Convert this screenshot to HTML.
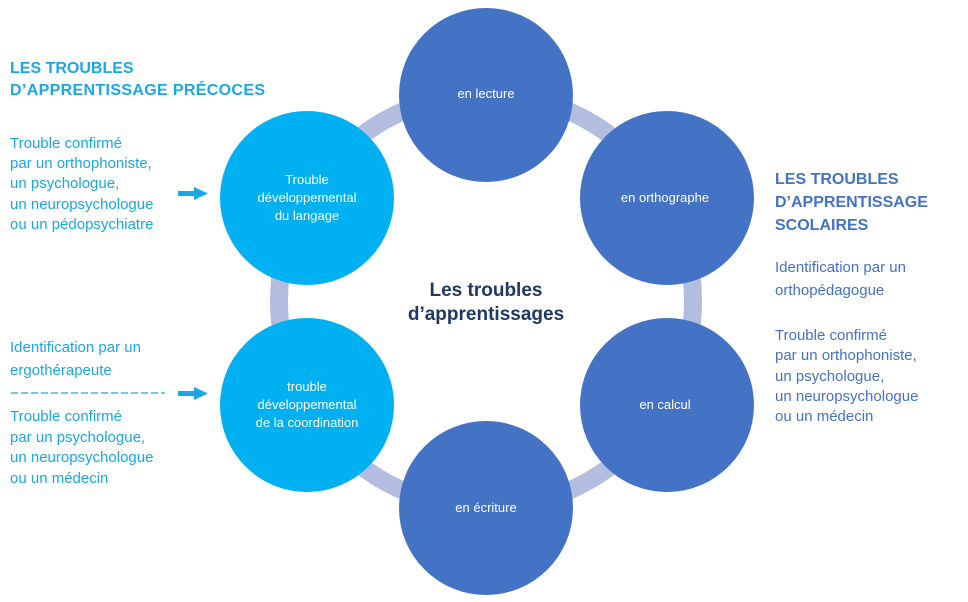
<!DOCTYPE html>
<html><head><meta charset="utf-8"><style>
html,body{margin:0;padding:0;background:#fff;}
svg{display:block;font-family:"Liberation Sans",sans-serif;}
</style></head><body>
<svg width="968" height="602" viewBox="0 0 968 602" xmlns="http://www.w3.org/2000/svg">
<circle cx="486" cy="301" r="207" fill="none" stroke="#b3bde0" stroke-width="18"/>
<circle cx="486" cy="95" r="87" fill="#4472c4"/>
<circle cx="667" cy="198" r="87" fill="#4472c4"/>
<circle cx="667" cy="405" r="87" fill="#4472c4"/>
<circle cx="486" cy="508" r="87" fill="#4472c4"/>
<circle cx="307" cy="198" r="87" fill="#00b0f0"/>
<circle cx="307" cy="405" r="87" fill="#00b0f0"/>
<g fill="#fff" font-size="13" text-anchor="middle">
<text x="486" y="98">en lecture</text>
<text x="665" y="202">en orthographe</text>
<text x="665" y="409">en calcul</text>
<text x="486" y="512">en écriture</text>
<text x="307" y="184">Trouble</text>
<text x="307" y="202">développemental</text>
<text x="307" y="220">du langage</text>
<text x="307" y="391">trouble</text>
<text x="307" y="409">développemental</text>
<text x="307" y="427">de la coordination</text>
</g>
<g fill="#1f3864" font-size="19" font-weight="bold" text-anchor="middle">
<text x="486" y="296">Les troubles</text>
<text x="486" y="320">d’apprentissages</text>
</g>
<g fill="#1aa7e6" font-size="15">
<text x="10" y="73" font-weight="bold" font-size="16">LES TROUBLES</text>
<text x="10" y="95" font-weight="bold" font-size="16" textLength="255">D’APPRENTISSAGE PRÉCOCES</text>
<text x="10" y="148">Trouble confirmé</text>
<text x="10" y="168">par un orthophoniste,</text>
<text x="10" y="188">un psychologue,</text>
<text x="10" y="209">un neuropsychologue</text>
<text x="10" y="229">ou un pédopsychiatre</text>
<text x="10" y="352">Identification par un</text>
<text x="10" y="375">ergothérapeute</text>
<text x="10" y="421">Trouble confirmé</text>
<text x="10" y="442">par un psychologue,</text>
<text x="10" y="462">un neuropsychologue</text>
<text x="10" y="483">ou un médecin</text>
</g>
<line x1="11" y1="393" x2="165" y2="393" stroke="#1aa7e6" stroke-width="1.3" stroke-dasharray="7,3"/>
<g fill="#1aa7e6">
<rect x="178" y="191" width="16" height="5"/><polygon points="194,187 208,193.5 194,200"/>
<rect x="178" y="391" width="16" height="5"/><polygon points="194,387 208,393.5 194,400"/>
</g>
<g fill="#4472c4" font-size="15">
<text x="775" y="184" font-weight="bold" font-size="16">LES TROUBLES</text>
<text x="775" y="207" font-weight="bold" font-size="16">D’APPRENTISSAGE</text>
<text x="775" y="230" font-weight="bold" font-size="16">SCOLAIRES</text>
<text x="775" y="272">Identification par un</text>
<text x="775" y="295">orthopédagogue</text>
<text x="775" y="340">Trouble confirmé</text>
<text x="775" y="360">par un orthophoniste,</text>
<text x="775" y="381">un psychologue,</text>
<text x="775" y="401">un neuropsychologue</text>
<text x="775" y="421">ou un médecin</text>
</g>
</svg>
</body></html>
